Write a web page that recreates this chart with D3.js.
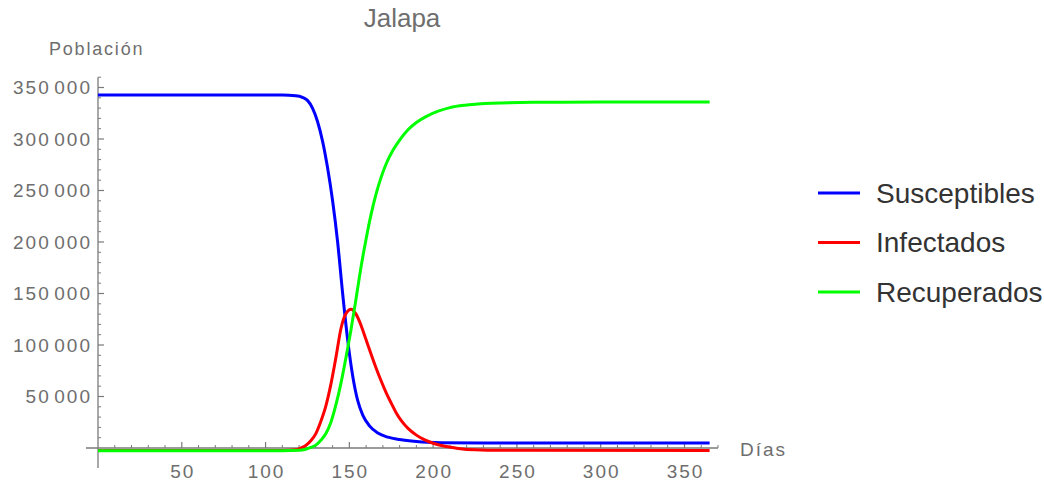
<!DOCTYPE html>
<html>
<head>
<meta charset="utf-8">
<script src="https://cdn.jsdelivr.net/npm/d3@7"></script>
<style>
  body { margin: 0; background: #fff; }
  #chart { width: 1044px; height: 483px; }
  text { font-family: "Liberation Sans", Arial, sans-serif; }
</style>
</head>
<body>
<div id="chart"></div>
<script>
const title = "Jalapa";
const xLabel = "Días";
const yLabel = "Población";

const xTicks = [50, 100, 150, 200, 250, 300, 350];
const yTicks = [50000, 100000, 150000, 200000, 250000, 300000, 350000];

// Susceptibles
const sDays   = [0, 110, 118, 122, 125, 128, 131, 134, 137, 140, 143, 146, 149, 152, 155, 158, 162, 167, 173, 180, 190, 205, 230, 365];
const sValues = [342700, 342600, 342000, 340500, 337500, 330000, 317000, 298000, 272000, 240000, 200000, 150000, 105000, 70000, 46000, 32000, 21500, 14500, 10500, 8200, 6300, 5200, 4900, 4800];

// Infectados
const iDays   = [0, 110, 118, 121, 124, 127, 130, 133, 136, 139, 142, 145, 148, 151, 154, 157, 160, 163, 166, 169, 172, 175, 178, 181, 185, 190, 195, 200, 207, 215, 225, 240, 365];
const iValues = [-2400, -2400, -1800, 0, 2500, 7000, 14000, 26000, 41000, 62000, 88000, 116000, 130500, 134800, 130000, 119000, 105000, 91000, 77500, 65000, 53500, 43500, 34000, 26500, 19000, 12500, 7800, 4600, 1700, -400, -1800, -2300, -2400];

// Recuperados
const rDays   = [0, 110, 120, 124, 127, 130, 133, 136, 139, 142, 145, 148, 151, 154, 157, 160, 163, 166, 169, 172, 176, 180, 185, 190, 196, 203, 210, 220, 235, 260, 300, 365];
const rValues = [-2600, -2600, -2300, -1200, 500, 2800, 7500, 14000, 25000, 42000, 63000, 88000, 115000, 145000, 176000, 203000, 227000, 247000, 263000, 276000, 289000, 299000, 309000, 316000, 322000, 327000, 330500, 333000, 334800, 335600, 335900, 336000];

const seriesNames = ["Susceptibles", "Infectados", "Recuperados"];
const seriesColors = ["#0000ff", "#ff0000", "#00ff00"];

const series = [
    { name: seriesNames[0], color: seriesColors[0], points: sDays.map((d, i) => [d, sValues[i]]) },
    { name: seriesNames[1], color: seriesColors[1], points: iDays.map((d, i) => [d, iValues[i]]) },
    { name: seriesNames[2], color: seriesColors[2], points: rDays.map((d, i) => [d, rValues[i]]) }
];

const width = 1044;
const height = 483;

const svg = d3.select("#chart")
    .append("svg")
    .attr("width", width)
    .attr("height", height);

// day 0 sits at x=98, 370 at the axis end
const x = d3.scaleLinear().domain([0, 370]).range([98, 718]);
const y = d3.scaleLinear().domain([0, 350000]).range([448, 87.5]);

const axisColor = "#7a7a7a";
const labelColor = "#6e6e6e";

// x axis line (runs a bit left of the y axis)
svg.append("line")
    .attr("x1", 86).attr("x2", x(370))
    .attr("y1", y(0)).attr("y2", y(0))
    .attr("stroke", axisColor).attr("stroke-width", 1.3);

// y axis line (runs a bit below the x axis)
svg.append("line")
    .attr("x1", x(0)).attr("x2", x(0))
    .attr("y1", 468).attr("y2", y(360000))
    .attr("stroke", axisColor).attr("stroke-width", 1.3);

// x ticks point up, minor every 10 days
const xMinor = d3.range(10, 371, 10).filter(d => d % 50 !== 0);
svg.append("g").selectAll("line")
    .data(xMinor)
    .join("line")
    .attr("x1", d => x(d)).attr("x2", d => x(d))
    .attr("y1", y(0)).attr("y2", y(0) - 3)
    .attr("stroke", axisColor).attr("stroke-width", 1);

svg.append("g").selectAll("line")
    .data(xTicks)
    .join("line")
    .attr("x1", d => x(d)).attr("x2", d => x(d))
    .attr("y1", y(0)).attr("y2", y(0) - 6)
    .attr("stroke", axisColor).attr("stroke-width", 1.2);

svg.append("g").selectAll("text")
    .data(xTicks)
    .join("text")
    .attr("x", d => x(d) + 1)
    .attr("y", y(0) + 30)
    .attr("text-anchor", "middle")
    .attr("font-size", 19)
    .attr("letter-spacing", 2)
    .attr("fill", labelColor)
    .text(d => d);

// y ticks point right, minor every 10000
const yMinor = d3.range(10000, 360001, 10000).filter(d => d % 50000 !== 0);
svg.append("g").selectAll("line")
    .data(yMinor)
    .join("line")
    .attr("x1", x(0)).attr("x2", x(0) + 3)
    .attr("y1", d => y(d)).attr("y2", d => y(d))
    .attr("stroke", axisColor).attr("stroke-width", 1);

svg.append("g").selectAll("line")
    .data(yTicks)
    .join("line")
    .attr("x1", x(0)).attr("x2", x(0) + 6)
    .attr("y1", d => y(d)).attr("y2", d => y(d))
    .attr("stroke", axisColor).attr("stroke-width", 1.2);

// digit groups split by a hair space, as in the original
const fmt = d => d3.format(",")(d).replace(",", "\u200A");
svg.append("g").selectAll("text")
    .data(yTicks)
    .join("text")
    .attr("x", 92)
    .attr("y", d => y(d))
    .attr("dy", "0.36em")
    .attr("text-anchor", "end")
    .attr("font-size", 19)
    .attr("letter-spacing", 2)
    .attr("fill", labelColor)
    .text(fmt);

// curves
const line = d3.line()
    .x(d => x(d[0]))
    .y(d => y(d[1]))
    .curve(d3.curveMonotoneX);

svg.append("g").selectAll("path")
    .data(series)
    .join("path")
    .attr("d", d => line(d.points))
    .attr("fill", "none")
    .attr("stroke", d => d.color)
    .attr("stroke-width", 3)
    .attr("stroke-linejoin", "round");

// titles
svg.append("text")
    .attr("x", 402).attr("y", 27)
    .attr("text-anchor", "middle")
    .attr("font-size", 26)
    .attr("fill", labelColor)
    .text(title);

svg.append("text")
    .attr("x", 49).attr("y", 55)
    .attr("font-size", 18)
    .attr("letter-spacing", 1.8)
    .attr("fill", labelColor)
    .text(yLabel);

svg.append("text")
    .attr("x", 740).attr("y", 456)
    .attr("font-size", 19)
    .attr("letter-spacing", 2)
    .attr("fill", labelColor)
    .text(xLabel);

// legend
const legend = svg.append("g").selectAll("g")
    .data(series)
    .join("g")
    .attr("transform", (d, i) => `translate(818, ${193 + i * 49.5})`);

legend.append("line")
    .attr("x1", 0).attr("x2", 42)
    .attr("y1", 0).attr("y2", 0)
    .attr("stroke", d => d.color)
    .attr("stroke-width", 3);

legend.append("text")
    .attr("x", 58)
    .attr("y", 9.5)
    .attr("font-size", 28)
    .attr("fill", "#333")
    .text(d => d.name);
</script>
</body>
</html>
